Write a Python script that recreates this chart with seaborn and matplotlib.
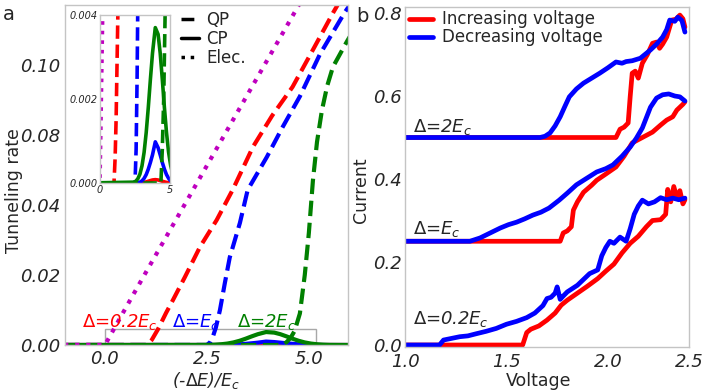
import numpy as np
import pandas as pd
import matplotlib.pyplot as plt
import seaborn as sns
from matplotlib.lines import Line2D
from matplotlib.patches import Rectangle

sns.set_style('white')
plt.rcParams['font.family'] = ['DejaVu Sans']
plt.rcParams['mathtext.fontset'] = 'dejavusans'
plt.rcParams['mathtext.default'] = 'it'

# ---------------- panel a data: tunneling rates vs (-dE)/Ec ----------------
elec_x = [-1.0, 0.0, 0.5, 1.05, 2.16, 3.2, 4.7, 6.0]
elec_y = [0.0, 0.0, 0.0104, 0.0217, 0.0443, 0.0655, 0.0960, 0.1225]

qp_red_x = [-1.0, 1.0, 1.08, 1.15, 1.3, 1.5, 1.67, 1.96, 2.33, 2.74, 3.14, 3.63, 4.1, 4.6, 5.1, 5.6, 6.0]
qp_red_y = [0.0, 0.0, 0.0006, 0.0015, 0.0045, 0.0092, 0.0129, 0.0194, 0.028, 0.0357, 0.0445, 0.0566, 0.0655, 0.0737, 0.0843, 0.095, 0.103]

qp_blue_x = [-1.0, 2.5, 2.58, 2.65, 2.72, 2.82, 2.94, 3.06, 3.31, 3.5, 3.97, 4.36, 4.78, 5.27, 5.88, 6.0]
qp_blue_y = [0.0, 0.0, 0.0008, 0.0025, 0.005, 0.010, 0.0177, 0.025, 0.0349, 0.0443, 0.0537, 0.0623, 0.071, 0.083, 0.095, 0.097]

qp_green_x = [-1.0, 4.35, 4.45, 4.55, 4.65, 4.78, 4.9, 5.0, 5.1, 5.2, 5.32, 5.45, 5.59, 5.93, 6.0]
qp_green_y = [0.0, 0.0, 0.0008, 0.002, 0.004, 0.009, 0.020, 0.032, 0.047, 0.058, 0.067, 0.074, 0.0794, 0.0866, 0.088]

cp_x = [-1.0, 2.4, 2.55, 2.7, 2.85, 3.0, 3.15, 3.3, 3.45, 3.6, 3.75, 3.95,
        4.15, 4.3, 4.45, 4.6, 4.75, 4.9, 5.05, 5.2, 5.35, 5.5, 6.0]
cp_red_y = [0, 0, 0, 0, 0.000003, 0.000008, 0.000015, 0.000027, 0.000042, 0.000058, 0.000072, 0.00008,
            0.000072, 0.000058, 0.000042, 0.000027, 0.000015, 0.000008, 0.000003, 0, 0, 0, 0]
cp_blue_y = [0, 0, 0, 0.000005, 0.00002, 0.00005, 0.00011, 0.0002, 0.00033, 0.00049, 0.00067, 0.00098,
             0.00084, 0.00067, 0.00049, 0.00033, 0.0002, 0.00011, 0.00005, 0.00002, 0.000005, 0, 0]
cp_green_y = [0, 0.00002, 0.00004, 0.0001, 0.00021, 0.00041, 0.00073, 0.0012, 0.0018, 0.00247, 0.00309, 0.0037,
              0.00354, 0.00309, 0.00247, 0.0018, 0.0012, 0.00073, 0.00041, 0.00021, 0.0001, 0.00004, 0]

a_yticks = [0.0, 0.02, 0.04, 0.06, 0.08]
a_yticklabels = ['0.00', '0.02', '0.04', '0.08', '0.10']
a_xticks = [0.0, 2.5, 5.0]

# ---------------- panel b data: current vs voltage ----------------
b02_dec_x = [1.0, 1.17, 1.19, 1.23, 1.27, 1.31, 1.35, 1.40, 1.45, 1.50, 1.55, 1.60, 1.64, 1.68, 1.70, 1.72,
             1.74, 1.75, 1.765, 1.78, 1.80, 1.85, 1.88, 1.91, 1.95, 1.97, 1.99, 2.01, 2.03, 2.06, 2.09,
             2.11, 2.13, 2.15, 2.17, 2.20, 2.23, 2.26, 2.29, 2.32, 2.35, 2.38]
b02_dec_y = [0, 0, 0.012, 0.016, 0.020, 0.022, 0.027, 0.033, 0.040, 0.050, 0.057, 0.066, 0.077, 0.095, 0.112,
             0.115, 0.125, 0.140, 0.110, 0.118, 0.128, 0.144, 0.158, 0.172, 0.181, 0.215, 0.235, 0.25, 0.245,
             0.26, 0.25, 0.28, 0.315, 0.335, 0.349, 0.340, 0.345, 0.355, 0.350, 0.354, 0.350, 0.354]
b02_inc_x = [1.0, 1.58, 1.60, 1.62, 1.66, 1.70, 1.74, 1.77, 1.80, 1.85, 1.90, 1.95, 1.99, 2.03, 2.07, 2.11,
             2.15, 2.19, 2.22, 2.26, 2.285, 2.295, 2.31, 2.325, 2.34, 2.355, 2.37, 2.38]
b02_inc_y = [0, 0, 0.030, 0.038, 0.046, 0.060, 0.077, 0.096, 0.108, 0.125, 0.142, 0.160, 0.178, 0.195, 0.222,
             0.245, 0.262, 0.285, 0.300, 0.302, 0.315, 0.375, 0.345, 0.382, 0.355, 0.372, 0.340, 0.350]

b1_dec_x = [1.0, 1.32, 1.37, 1.42, 1.47, 1.51, 1.55, 1.59, 1.63, 1.67, 1.71, 1.76, 1.80, 1.845, 1.89, 1.945,
            1.99, 2.025, 2.07, 2.11, 2.14, 2.17, 2.21, 2.24, 2.27, 2.30, 2.33, 2.355, 2.38]
b1_dec_y = [0.25, 0.25, 0.258, 0.270, 0.282, 0.290, 0.296, 0.304, 0.313, 0.320, 0.330, 0.349, 0.366, 0.386,
            0.400, 0.417, 0.425, 0.434, 0.455, 0.477, 0.498, 0.523, 0.573, 0.595, 0.603, 0.605, 0.600, 0.598, 0.588]
b1_inc_x = [1.0, 1.765, 1.78, 1.80, 1.82, 1.83, 1.85, 1.88, 1.92, 1.945, 1.99, 2.04, 2.08, 2.12, 2.17, 2.22,
            2.26, 2.29, 2.32, 2.34, 2.37, 2.38]
b1_inc_y = [0.25, 0.25, 0.27, 0.275, 0.285, 0.325, 0.345, 0.368, 0.385, 0.397, 0.412, 0.429, 0.455, 0.487,
            0.500, 0.513, 0.530, 0.542, 0.550, 0.566, 0.580, 0.586]

b2_dec_x = [1.0, 1.665, 1.69, 1.715, 1.74, 1.765, 1.79, 1.81, 1.845, 1.88, 1.92, 1.96, 2.0, 2.04, 2.07, 2.09,
            2.12, 2.16, 2.21, 2.24, 2.27, 2.29, 2.305, 2.33, 2.345, 2.365, 2.38]
b2_dec_y = [0.5, 0.5, 0.503, 0.511, 0.528, 0.55, 0.577, 0.598, 0.617, 0.631, 0.643, 0.655, 0.668, 0.682, 0.679,
            0.683, 0.685, 0.691, 0.711, 0.725, 0.742, 0.760, 0.783, 0.780, 0.790, 0.782, 0.754]
b2_inc_x = [1.0, 2.04, 2.06, 2.08, 2.10, 2.11, 2.12, 2.135, 2.15, 2.17, 2.195, 2.22, 2.24, 2.255, 2.27, 2.29,
            2.315, 2.335, 2.355, 2.37, 2.38]
b2_inc_y = [0.5, 0.5, 0.52, 0.525, 0.535, 0.598, 0.655, 0.66, 0.643, 0.679, 0.700, 0.727, 0.730, 0.715, 0.725,
            0.742, 0.783, 0.785, 0.795, 0.786, 0.766]

b_xticks = [1.0, 1.5, 2.0, 2.4]
b_xticklabels = ['1.0', '1.5', '2.0', '2.5']
b_yticks = [0.0, 0.2, 0.4, 0.6, 0.8]

spine_col = '#c4c4c4'
GREEN = '#008000'


def style_axes(ax):
    for s in ax.spines.values():
        s.set_color(spine_col)
        s.set_linewidth(1.0)
    ax.tick_params(length=0)


def rate_curves(ax, lw):
    for x, y, c in [(cp_x, cp_red_y, 'r'), (cp_x, cp_blue_y, 'b')]:
        sns.lineplot(x=x, y=y, color=c, lw=lw, ax=ax, estimator=None, sort=False)
    for x, y, c in [(qp_red_x, qp_red_y, 'r'), (qp_blue_x, qp_blue_y, 'b')]:
        sns.lineplot(x=x, y=y, color=c, lw=lw, ls='--', ax=ax, estimator=None, sort=False)
    sns.lineplot(x=cp_x, y=cp_green_y, color=GREEN, lw=lw, ax=ax, estimator=None, sort=False)
    sns.lineplot(x=qp_green_x, y=qp_green_y, color=GREEN, lw=lw, ls='--', ax=ax, estimator=None, sort=False)
    sns.lineplot(x=elec_x, y=elec_y, color='m', lw=lw, ls=':', ax=ax, estimator=None, sort=False)


fig = plt.figure(figsize=(7.06, 3.91), dpi=100)

# ---- panel a ----
ax_a = fig.add_axes([65 / 706, 46 / 391, 283 / 706, 340 / 391])
rate_curves(ax_a, 3)
ax_a.set_xlim(-0.98, 5.96)
ax_a.set_ylim(0, 0.0971)
ax_a.set_xticks(a_xticks)
ax_a.set_xticklabels(['0.0', '2.5', '5.0'], fontstyle='italic', fontsize=13)
ax_a.set_yticks(a_yticks)
ax_a.set_yticklabels(a_yticklabels, fontstyle='italic', fontsize=13)
ax_a.set_xlabel('(-$\\Delta E$)/$E_c$', fontstyle='italic', fontsize=12.5)
ax_a.set_ylabel('Tunneling rate', fontsize=12.5)
ax_a.yaxis.set_label_coords(-0.15, 0.455)
ax_a.xaxis.set_label_coords(0.5, -0.073)
style_axes(ax_a)
ax_a.add_patch(Rectangle((0, 0), 5.17, 0.0045, fill=False, ec='#a8a8a8', lw=1, zorder=1))
ax_a.text(-0.56, 0.0066, '$\\Delta$=0.2$E_c$', color='r', fontsize=13, fontstyle='italic', va='center')
ax_a.text(1.64, 0.0066, '$\\Delta$=$E_c$', color='b', fontsize=13, fontstyle='italic', va='center')
ax_a.text(3.23, 0.0066, '$\\Delta$=2$E_c$', color=GREEN, fontsize=13, fontstyle='italic', va='center')

handles = [Line2D([], [], color='k', lw=2.5, ls='--'),
           Line2D([], [], color='k', lw=2.5, ls='-'),
           Line2D([], [], color='k', lw=2.5, ls=':')]
ax_a.legend(handles, ['QP', 'CP', 'Elec.'], loc='upper left', bbox_to_anchor=(0.41, 0.982),
            frameon=False, fontsize=12, handlelength=1.1, handletextpad=0.4,
            labelspacing=0.05, borderpad=0, borderaxespad=0)

# inset
ax_in = fig.add_axes([100 / 706, (391 - 183) / 391, 70 / 706, 168 / 391])
rate_curves(ax_in, 2.6)
ax_in.set_xlim(0, 5)
ax_in.set_ylim(0, 0.004)
ax_in.set_xticks([0, 5])
ax_in.set_xticklabels(['0', '5'], fontstyle='italic', fontsize=7)
ax_in.set_yticks([0, 0.002, 0.004])
ax_in.set_yticklabels(['0.000', '0.002', '0.004'], fontstyle='italic', fontsize=7)
style_axes(ax_in)
ax_in.tick_params(pad=1.5)

# ---- panel b ----
ax_b = fig.add_axes([405 / 706, 44 / 391, 284 / 706, 340 / 391])
pairs = [(b02_inc_x, b02_inc_y, b02_dec_x, b02_dec_y),
         (b1_inc_x, b1_inc_y, b1_dec_x, b1_dec_y),
         (b2_inc_x, b2_inc_y, b2_dec_x, b2_dec_y)]
for i, (xi, yi, xd, yd) in enumerate(pairs):
    sns.lineplot(x=xi, y=yi, color='r', lw=3.4, ax=ax_b, estimator=None, sort=False,
                 label='Increasing voltage' if i == 0 else None)
    sns.lineplot(x=xd, y=yd, color='b', lw=3.4, ax=ax_b, estimator=None, sort=False,
                 label='Decreasing voltage' if i == 0 else None)
ax_b.set_xlim(1.0, 2.399)
ax_b.set_ylim(-0.0048, 0.8145)
ax_b.set_xticks(b_xticks)
ax_b.set_xticklabels(b_xticklabels, fontstyle='italic', fontsize=13)
ax_b.set_yticks(b_yticks)
ax_b.set_yticklabels(['0.0', '0.2', '0.4', '0.6', '0.8'], fontstyle='italic', fontsize=13)
ax_b.set_xlabel('Voltage', fontsize=12.5)
ax_b.set_ylabel('Current', fontsize=12.5)
ax_b.yaxis.set_label_coords(-0.122, 0.46)
ax_b.xaxis.set_label_coords(0.47, -0.073)
style_axes(ax_b)
ax_b.tick_params(axis='y', pad=2)
ax_b.tick_params(axis='x', pad=4)
ax_b.text(1.04, 0.525, '$\\Delta$=2$E_c$', fontsize=13, fontstyle='italic', va='center')
ax_b.text(1.04, 0.28, '$\\Delta$=$E_c$', fontsize=13, fontstyle='italic', va='center')
ax_b.text(1.04, 0.063, '$\\Delta$=0.2$E_c$', fontsize=13, fontstyle='italic', va='center')
ax_b.legend(loc='upper left', bbox_to_anchor=(0.015, 0.99), frameon=False, fontsize=12,
            handlelength=1.4, handletextpad=0.55, labelspacing=0.0, borderpad=0, borderaxespad=0)

fig.text(9 / 706, 1 - 15 / 391, 'a', fontsize=14, ha='center', va='center')
fig.text(362 / 706, 1 - 17 / 391, 'b', fontsize=14, ha='center', va='center')

fig.savefig('out.png', dpi=100)
